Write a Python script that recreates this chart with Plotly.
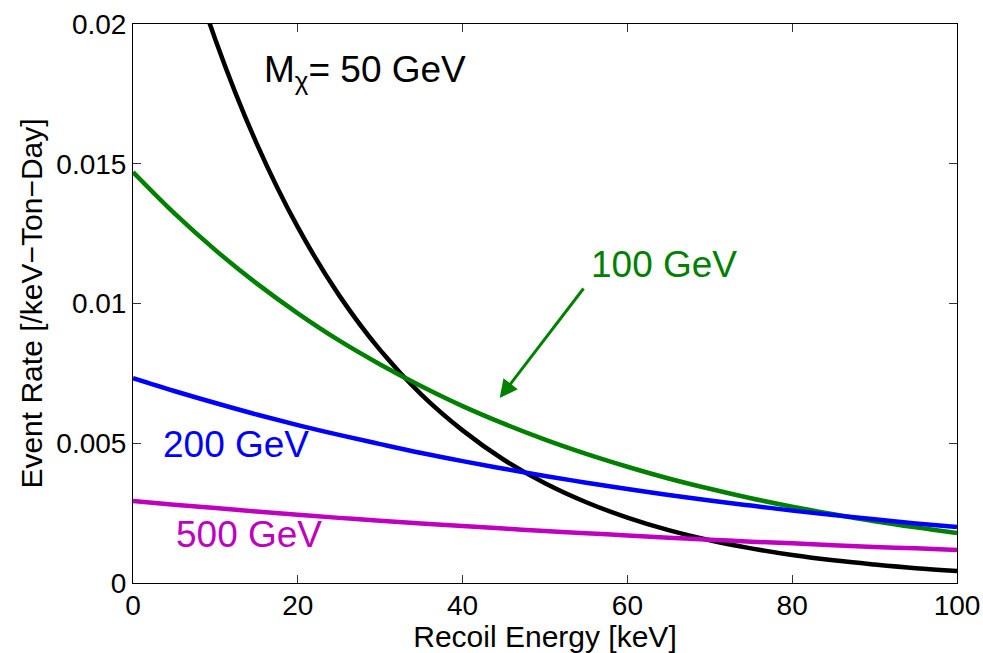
import plotly.graph_objects as go

energy_kev = [0, 5, 10, 15, 20, 25, 30, 35, 40, 45, 50, 55, 60, 65, 70, 75, 80, 85, 90, 95, 100]

rate_50gev = [0.02970, 0.02403, 0.01944, 0.01573, 0.01273, 0.01030, 0.00833, 0.00674, 0.00546, 0.00441,
              0.00357, 0.00289, 0.00234, 0.00189, 0.00153, 0.00124, 0.00100, 0.00081, 0.00066, 0.00053, 0.00043]
rate_100gev = [0.01470, 0.01323, 0.01191, 0.01072, 0.00965, 0.00868, 0.00782, 0.00704, 0.00633, 0.00570,
               0.00513, 0.00462, 0.00416, 0.00374, 0.00337, 0.00303, 0.00273, 0.00246, 0.00221, 0.00199, 0.00179]
rate_200gev = [0.00733, 0.00687, 0.00644, 0.00603, 0.00565, 0.00530, 0.00497, 0.00465, 0.00436, 0.00409,
               0.00383, 0.00359, 0.00336, 0.00315, 0.00295, 0.00277, 0.00259, 0.00243, 0.00228, 0.00213, 0.00200]
rate_500gev = [0.00293, 0.00280, 0.00268, 0.00256, 0.00244, 0.00233, 0.00223, 0.00213, 0.00204, 0.00195,
               0.00186, 0.00178, 0.00170, 0.00162, 0.00155, 0.00148, 0.00142, 0.00135, 0.00129, 0.00124, 0.00118]

x_ticks = [0, 20, 40, 60, 80, 100]
y_ticks = [0, 0.005, 0.01, 0.015, 0.02]
y_tick_labels = ["0", "0.005", "0.01", "0.015", "0.02"]

FONT = "Liberation Sans, Arial, Helvetica, sans-serif"
BLACK = "#000000"
GREEN = "#008000"
BLUE = "#0000FF"
MAGENTA = "#BF00BF"

fig = go.Figure()
for ys, col in [(rate_50gev, BLACK), (rate_100gev, GREEN), (rate_200gev, BLUE), (rate_500gev, MAGENTA)]:
    fig.add_trace(go.Scatter(x=energy_kev, y=ys, mode="lines",
                             line=dict(color=col, width=4.5, shape="spline"),
                             showlegend=False, hoverinfo="skip"))

fig.update_layout(
    width=983, height=653,
    margin=dict(l=133, r=26, t=24, b=70, autoexpand=False),
    paper_bgcolor="white", plot_bgcolor="white",
    font=dict(family=FONT, size=28, color="black"),
)
fig.update_xaxes(range=[0, 100], tickvals=x_ticks, ticks="inside", ticklen=8, tickwidth=1,
                 tickcolor="#333333", showline=True, linecolor="black", linewidth=1, mirror="ticks",
                 showgrid=False, zeroline=False, tickfont=dict(size=28), automargin=False,
                 ticklabelstandoff=-3,
                 title=dict(text="Recoil Energy [keV]", font=dict(size=30), standoff=2))
fig.update_yaxes(range=[0, 0.02], tickvals=y_ticks, ticktext=y_tick_labels, ticks="inside", ticklen=8,
                 tickwidth=1, tickcolor="#333333", showline=True, linecolor="black", linewidth=1,
                 mirror="ticks", showgrid=False, zeroline=False, tickfont=dict(size=28), automargin=False,
                 title=dict(text="Event Rate [/keV\u2212Ton\u2212Day]", font=dict(size=30), standoff=4))

ann_font = 37
fig.add_annotation(x=15.7, y=0.0183, xref="x", yref="y", xanchor="left", yanchor="middle",
                   text="M<sub>\u03c7</sub>= 50 GeV", showarrow=False,
                   font=dict(size=ann_font, color=BLACK))
fig.add_annotation(x=64.4, y=0.01138, xref="x", yref="y", xanchor="center", yanchor="middle",
                   text="100 GeV", showarrow=False, font=dict(size=ann_font, color=GREEN))
fig.add_annotation(x=12.5, y=0.00497, xref="x", yref="y", xanchor="center", yanchor="middle",
                   text="200 GeV", showarrow=False, font=dict(size=ann_font, color=BLUE))
fig.add_annotation(x=14.1, y=0.00175, xref="x", yref="y", xanchor="center", yanchor="middle",
                   text="500 GeV", showarrow=False, font=dict(size=ann_font, color=MAGENTA))
fig.add_annotation(x=44.5, y=0.00662, xref="x", yref="y", text="", showarrow=True,
                   ax=85, ay=-111, arrowhead=2, arrowsize=1.2, arrowwidth=3, arrowcolor=GREEN)

fig.write_html("out.html")
